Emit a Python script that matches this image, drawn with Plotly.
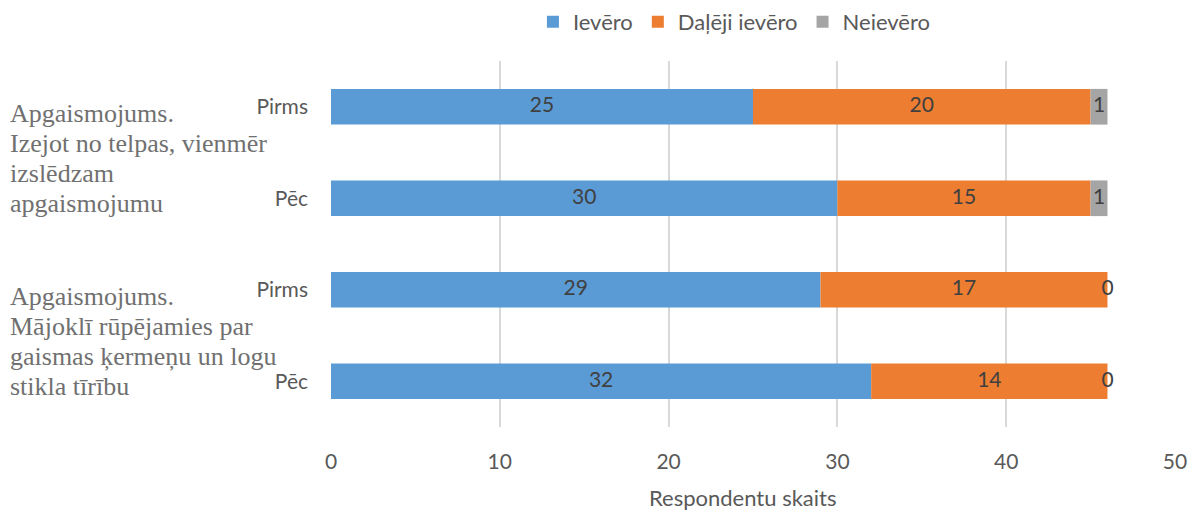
import plotly.graph_objects as go

# Survey responses: two statements, each asked before ("Pirms") and after ("Pēc")
row_labels = ["Pirms", "Pēc", "Pirms", "Pēc"]
group_lines = [
    ["Apgaismojums.", "Izejot no telpas, vienmēr", "izslēdzam", "apgaismojumu"],
    ["Apgaismojums.", "Mājoklī rūpējamies par", "gaismas ķermeņu un logu", "stikla tīrību"],
]
series_names = ["Ievēro", "Daļēji ievēro", "Neievēro"]
ievero = [25, 30, 29, 32]
daleji_ievero = [20, 15, 17, 14]
neievero = [1, 1, 0, 0]
x_title = "Respondentu skaits"

colors = ["#5B9BD5", "#ED7D31", "#A5A5A5"]
series_values = [ievero, daleji_ievero, neievero]
ypos = list(range(len(row_labels)))

SANS = "Lato, Open Sans, sans-serif"
SERIF = "Liberation Serif, Times New Roman, serif"

fig = go.Figure()
base = [0] * len(row_labels)
label_x, label_y, label_t = [], [], []
for name, vals, col in zip(series_names, series_values, colors):
    fig.add_trace(go.Bar(
        name=name, y=ypos, x=vals, base=base, orientation="h",
        marker=dict(color=col, line=dict(width=0)), width=0.39,
    ))
    for i, v in enumerate(vals):
        label_x.append(base[i] + v / 2)
        label_y.append(ypos[i])
        label_t.append(str(v))
    base = [b + v for b, v in zip(base, vals)]

# data labels centred on each segment
fig.add_trace(go.Scatter(
    x=label_x, y=label_y, text=label_t, mode="text",
    textfont=dict(family=SANS, size=21, color="#404040"),
    showlegend=False, hoverinfo="skip",
))

# statement labels on the left, one block per pair of rows, one annotation per line
line_step = 30
for g, lines in enumerate(group_lines):
    mid = (ypos[2 * g] + ypos[2 * g + 1]) / 2
    n = len(lines)
    for k, line in enumerate(lines):
        fig.add_annotation(
            x=-0.3827, xref="paper", xanchor="left", align="left",
            y=mid, yref="y", yanchor="middle",
            yshift=-6 - (k - (n - 1) / 2) * line_step,
            text=line, showarrow=False,
            font=dict(family=SERIF, size=26, color="#707070"),
        )

# x-axis title, placed just under the tick labels
fig.add_annotation(
    x=0.488, xref="paper", xanchor="center",
    y=0, yref="paper", yanchor="top", yshift=-55,
    text=x_title, showarrow=False,
    font=dict(family=SANS, size=22, color="#595959"),
)

fig.update_layout(
    width=1190, height=510,
    margin=dict(l=331, r=15, t=61, b=83, autoexpand=False),
    paper_bgcolor="white", plot_bgcolor="white",
    barmode="overlay",
    font=dict(family=SANS, color="#595959", size=21),
    legend=dict(
        orientation="h", x=0.478, xanchor="center", y=1.107, yanchor="middle",
        font=dict(family=SANS, size=22, color="#595959"), traceorder="normal",
        itemwidth=30,
    ),
    xaxis=dict(
        range=[0, 50], tickvals=[0, 10, 20, 30, 40, 50],
        showgrid=True, gridcolor="#D9D9D9", gridwidth=2,
        zeroline=False, showline=False, ticks="",
        ticklabelstandoff=20,
        tickfont=dict(family=SANS, size=21, color="#595959"),
    ),
    yaxis=dict(
        range=[3.5, -0.5], tickvals=ypos, ticktext=row_labels,
        showgrid=False, zeroline=False, showline=False, ticks="",
        ticklabelstandoff=22,
        tickfont=dict(family=SANS, size=21, color="#595959"),
    ),
)

fig.write_html("out.html")
